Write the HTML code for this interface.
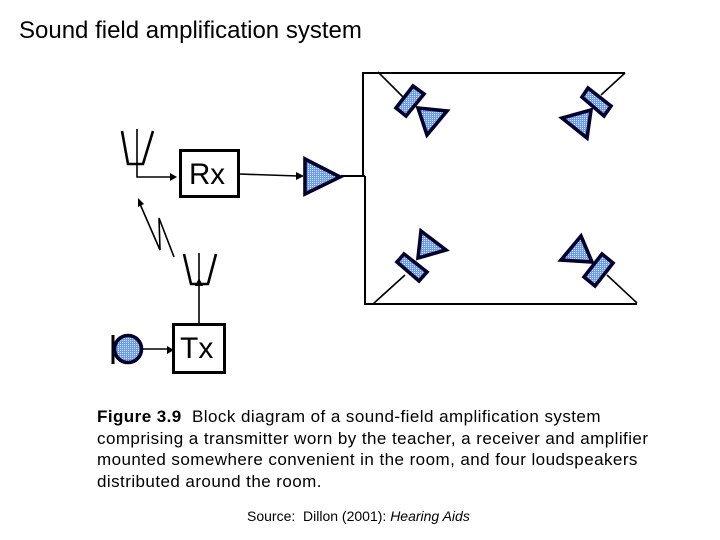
<!DOCTYPE html>
<html><head><meta charset="utf-8"><style>
html,body{margin:0;padding:0;background:#fff}
body{width:720px;height:540px;position:relative;overflow:hidden;font-family:"Liberation Sans",sans-serif;color:#000}
div.t{position:absolute;white-space:nowrap}
svg{position:absolute;left:0;top:0}
</style></head><body>
<svg width="720" height="540" viewBox="0 0 720 540">
<defs>
<pattern id="d" width="2" height="2" patternUnits="userSpaceOnUse"><rect width="2" height="2" fill="#6b9cec"/><rect width="1" height="1" fill="#d6e4fc"/></pattern>
</defs>
<g fill="none" stroke="#000" stroke-width="2">
<path d="M363 176V73H625M365 176V304H637M341 176H365"/>
<path d="M378 72L403 97M625 73L601 95M373 304L405 275M637 303L607 275" stroke-width="1.6"/>
<path d="M239 174L298 176" stroke-width="1.6"/>
<path d="M122 131L128 164H143L153 131" stroke-width="2.6"/>
<path d="M137 129V177H172" stroke-width="1.6"/>
<path d="M184 254L191 284H208L216 254" stroke-width="2.6"/>
<path d="M199 253V323" stroke-width="1.6"/>
<path d="M143 349H168" stroke-width="1.6"/>
<path d="M140 204L160 250L159 218L174 257" stroke-width="1.6"/>
<path d="M113 335V364" stroke-width="3"/>
</g>
<g fill="#000">
<path d="M177 177L170 173V181Z"/>
<path d="M174 350L167 346V354Z"/>
<path d="M199 278L195 286H203Z"/>
<path d="M304 176L296 172V180Z"/>
<path d="M138 198L138 207L144 204Z"/>
</g>
<g fill="#fff" stroke="#000" stroke-width="3">
<rect x="180.500" y="150.500" width="58" height="46"/>
<rect x="173.500" y="324.500" width="51" height="48"/>
</g>
<g fill="url(#d)" stroke="#00002a" stroke-width="3.600" stroke-linejoin="miter">
<path d="M305 159L340 177L305 194Z"/>
<circle cx="128" cy="349" r="13.500"/>
<path d="M413 86L424 94L406 116L396 108Z"/>
<path d="M418 108L447 111L427 135Z"/>
<path d="M588 88L611 106L604 116L582 97Z"/>
<path d="M591 110L562 118L587 138Z"/>
<path d="M404 254L427 272L419 281L397 262Z"/>
<path d="M421 231L446 250L418 258Z"/>
<path d="M602 254L613 263L595 286L584 277Z"/>
<path d="M581 236L592 262L561 260Z"/>
</g>
</svg>
<div class="t" style="left:19px;top:17px;font-size:24px;line-height:28px">Sound field amplification system</div>
<div class="t" style="left:189px;top:157px;font-size:29.500px;line-height:36px">Rx</div>
<div class="t" style="left:180px;top:331px;font-size:30px;line-height:36px">Tx</div>
<div class="t" style="left:97px;top:406px;font-size:17px;line-height:21.500px;letter-spacing:.44px"><b>Figure 3.9</b>&nbsp; Block diagram of a sound-field amplification system<br>comprising a transmitter worn by the teacher, a receiver and amplifier<br>mounted somewhere convenient in the room, and four loudspeakers<br>distributed around the room.</div>
<div class="t" style="left:247px;top:508px;font-size:14px;line-height:16px">Source:&nbsp; Dillon (2001): <i>Hearing Aids</i></div>
</body></html>
